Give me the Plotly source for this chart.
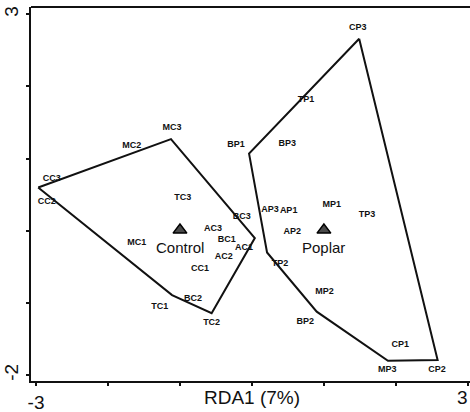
import plotly.graph_objects as go

# Site labels (RDA site scores)
control_sites = ["CC3", "CC2", "MC2", "MC3", "TC3", "AC3", "BC3", "BC1", "AC1", "AC2",
                 "MC1", "CC1", "BC2", "TC1", "TC2"]
control_x = [-2.78, -2.85, -1.67, -1.11, -0.96, -0.54, -0.14, -0.35, -0.11, -0.39,
             -1.60, -0.72, -0.82, -1.28, -0.56]
control_y = [0.72, 0.40, 1.18, 1.43, 0.46, 0.03, 0.19, -0.12, -0.24, -0.36,
             -0.17, -0.53, -0.94, -1.05, -1.27]

poplar_sites = ["CP3", "TP1", "BP1", "BP3", "AP3", "AP1", "MP1", "TP3", "AP2", "TP2",
                "MP2", "BP2", "CP1", "MP3", "CP2"]
poplar_x = [1.47, 0.75, -0.22, 0.49, 0.25, 0.51, 1.11, 1.60, 0.56, 0.39,
            1.01, 0.74, 2.06, 1.88, 2.57]
poplar_y = [2.81, 1.81, 1.19, 1.20, 0.29, 0.28, 0.36, 0.22, -0.01, -0.46,
            -0.84, -1.26, -1.58, -1.93, -1.93]

# Convex hull vertices
control_hull_x = [-2.97, -1.125, 0.04, -0.56, -1.11]
control_hull_y = [0.60, 1.27, -0.10, -1.14, -0.89]
poplar_hull_x = [1.49, -0.04, 0.21, 0.90, 1.89, 2.58]
poplar_hull_y = [2.66, 1.07, -0.30, -1.12, -1.80, -1.79]

# Treatment centroids
centroid_names = ["Control", "Poplar"]
centroid_x = [-1.0, 1.0]
centroid_y = [0.01, 0.01]

x_ticks = [-3, -2, -1, 0, 1, 2, 3]
x_ticktext = ["-3", "", "", "", "", "", ""]
x_last_label = "3"
y_ticks = [-2, -1, 0, 1, 2, 3]
y_ticktext = ["-2", "", "", "", "", "3"]
x_title = "RDA1 (7%)"

FONT = "Liberation Sans, Arial, sans-serif"

fig = go.Figure()

for hx, hy in [(control_hull_x, control_hull_y), (poplar_hull_x, poplar_hull_y)]:
    fig.add_trace(go.Scatter(
        x=hx + hx[:1], y=hy + hy[:1], mode="lines",
        line=dict(color="#111111", width=2), hoverinfo="skip", showlegend=False))

fig.add_trace(go.Scatter(
    x=control_x + poplar_x, y=control_y + poplar_y, mode="text",
    text=control_sites + poplar_sites, textposition="middle center",
    textfont=dict(family=FONT, size=9, color="#111111", weight="bold"),
    showlegend=False))

fig.add_trace(go.Scatter(
    x=centroid_x, y=centroid_y, mode="markers",
    marker=dict(symbol="triangle-up", size=12, color="#4a4a4a",
                line=dict(color="#000000", width=1.5)),
    showlegend=False))

for name, cx, cy in zip(centroid_names, centroid_x, centroid_y):
    fig.add_annotation(x=cx, y=cy, text=name, showarrow=False, yshift=-17,
                       font=dict(family=FONT, size=15, color="#111111"))

fig.add_annotation(x=0, y=-0.045, xref="x", yref="paper", text=x_title,
                   showarrow=False, yanchor="middle",
                   font=dict(family=FONT, size=19, color="#111111"))
fig.add_annotation(x=1, y=-0.045, xref="paper", yref="paper", text=x_last_label,
                   showarrow=False, yanchor="middle", xanchor="right",
                   font=dict(family=FONT, size=19, color="#111111"))

fig.update_xaxes(range=[-3.07, 3.03], tickvals=x_ticks, ticktext=x_ticktext,
                 ticks="outside", ticklen=3, tickwidth=1.5, tickcolor="#111",
                 showline=True, linewidth=2, linecolor="#111", mirror=False,
                 showgrid=False, zeroline=False, automargin=False,
                 tickfont=dict(family=FONT, size=19, color="#111"))
fig.update_yaxes(range=[-2.08, 3.10], tickvals=y_ticks, ticktext=y_ticktext,
                 ticks="outside", ticklen=3, tickwidth=1.5, tickcolor="#111",
                 showline=True, linewidth=2, linecolor="#111", automargin=False,
                 showgrid=False, zeroline=False, tickangle=-90,
                 tickfont=dict(family=FONT, size=19, color="#111"))

fig.add_shape(type="line", xref="paper", yref="paper", x0=0, x1=1, y0=1, y1=1,
              line=dict(color="#111", width=2))

fig.update_layout(width=470, height=412, margin=dict(l=31, r=0, t=7, b=31),
                  plot_bgcolor="white", paper_bgcolor="white")

fig.write_html("out.html", config={"displayModeBar": False},
               post_script="document.body.style.margin='0px';document.body.style.overflow='hidden';")
